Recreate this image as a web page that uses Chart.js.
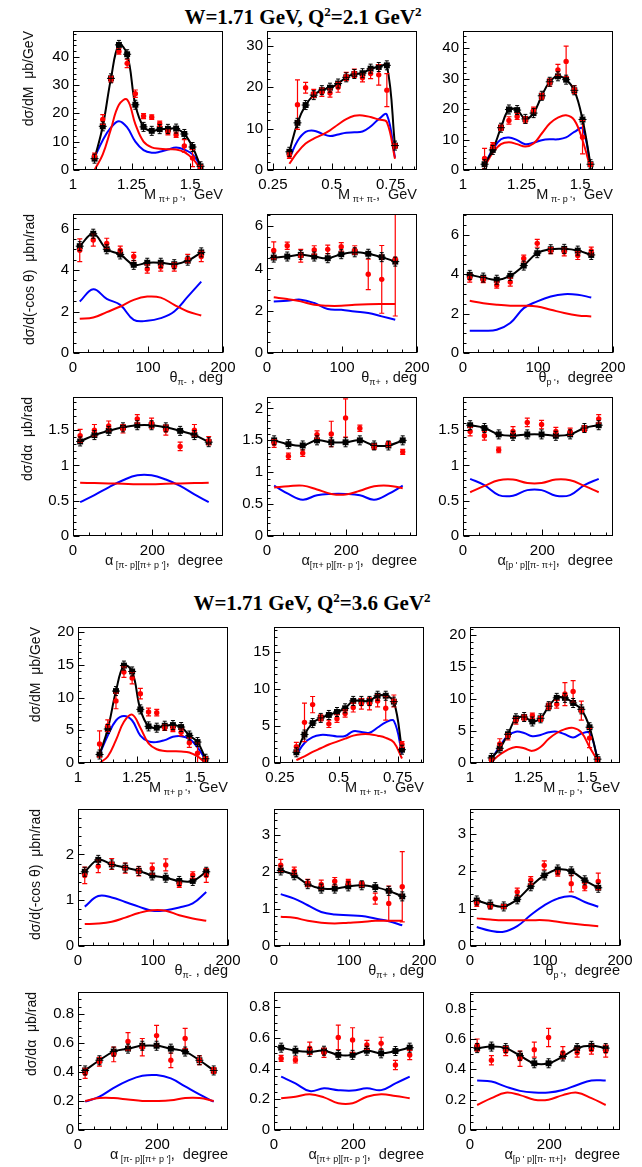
<!DOCTYPE html>
<html>
<head>
<meta charset="utf-8">
<script src="https://cdn.jsdelivr.net/npm/chart.js@4.4.0/dist/chart.umd.min.js"></script>
<style>
body { margin: 0; background: #fff; width: 642px; height: 1167px; position: relative; overflow: hidden; font-family: "Liberation Sans", Arial, sans-serif; }
canvas { position: absolute; }
.ttl { position: absolute; font-family: "Liberation Serif", serif; font-weight: bold; font-size: 21px; white-space: nowrap; transform: translateX(-50%); line-height: 24px; }
.ttl sup { font-size: 13px; vertical-align: 8px; line-height: 0; }
.xt { position: absolute; font-size: 14.5px; text-align: right; white-space: nowrap; line-height: 16px; color: #111; }
.xt sub { font-size: 9px; vertical-align: -3px; line-height: 0; }
.yt { position: absolute; font-size: 14px; white-space: nowrap; text-align: right; line-height: 16px; transform-origin: 0 0; transform: rotate(-90deg); color: #111; }
</style>
</head>
<body>
<div class="ttl" style="left:303px;top:5px">W=1.71 GeV, Q<sup>2</sup>=2.1 GeV<sup>2</sup></div>
<div class="ttl" style="left:312px;top:591px">W=1.71 GeV, Q<sup>2</sup>=3.6 GeV<sup>2</sup></div>
<script>
// bin centres
var massX = [1.092, 1.127, 1.162, 1.196, 1.231, 1.266, 1.301, 1.336, 1.37, 1.405, 1.44, 1.475, 1.51, 1.544];
var pipiX = [0.32, 0.3545, 0.389, 0.4235, 0.458, 0.4925, 0.527, 0.5615, 0.596, 0.6305, 0.665, 0.6995, 0.734, 0.7685];
var thetaX = [9, 27, 45, 63, 81, 99, 117, 135, 153, 171];
var alphaX = [18, 54, 90, 126, 162, 198, 234, 270, 306, 342];

// tick labels
var massTicks = [1, 1.25, 1.5];
var pipiTicks = [0.25, 0.5, 0.75];
var thetaTicks = [0, 100, 200];
var alphaTicks = [0, 200];

// ---- W=1.71, Q2=2.1 ----
// M(pi+ p')
var a1Black = [4.0, 15.4, 32.3, 44.1, 40.8, 23.0, 15.2, 13.8, 14.4, 14.5, 14.6, 12.7, 8.1, 1.3];
var a1Red = [5.0, 17.8, 32.0, 41.8, 37.6, 26.9, 19.0, 18.6, 16.3, 13.3, 12.4, 8.5, 4.2, 0.8];
var a1Err = [1.0, 1.7, 1.0, 1.0, 1.5, 1.3, 0.9, 0.8, 0.9, 0.9, 0.9, 2.2, 3.0, 0.8];
var a1RedLine = [0, 5.5, 14.5, 23.0, 24.8, 16.2, 10.0, 8.0, 7.5, 7.3, 7.2, 6.3, 4.0, 0.5];
var a1BlueLine = [4.4, 10.5, 15.0, 17.2, 15.0, 10.0, 7.0, 6.1, 6.4, 7.2, 7.9, 7.2, 5.5, 1.5];
// M(pi+ pi-)
var a2Black = [4.4, 11.4, 15.7, 18.1, 19.3, 19.9, 20.9, 22.4, 23.2, 23.4, 24.5, 24.9, 25.3, 5.9];
var a2Red = [3.5, 15.8, 19.9, 18.5, 18.8, 18.6, 20.0, 22.6, 23.4, 22.3, 23.3, 23.0, 19.3, 5.8];
var a2Err = [0.7, 6.0, 1.3, 1.0, 1.0, 1.0, 1.2, 1.0, 1.0, 1.0, 1.2, 2.5, 4.0, 0.5];
var a2RedLine = [1.5, 4.3, 6.4, 7.6, 8.5, 9.6, 11.0, 12.3, 13.1, 13.2, 12.8, 12.2, 11.6, 2.7];
var a2BlueLine = [2.8, 7.0, 9.2, 9.5, 8.8, 8.2, 8.6, 9.0, 9.1, 9.3, 10.5, 12.3, 13.4, 3.0];
// M(pi- p')
var a3Black = [1.9, 6.6, 13.9, 19.9, 19.7, 16.8, 18.7, 24.4, 29.0, 30.8, 29.7, 26.2, 16.6, 1.9];
var a3Red = [3.8, 8.0, 13.9, 16.3, 17.6, 16.5, 19.7, 24.2, 28.8, 32.9, 35.7, 26.4, 10.8, 1.8];
var a3Err = [3.3, 1.0, 0.9, 1.2, 1.0, 1.0, 1.0, 1.0, 1.2, 1.8, 5.0, 1.3, 5.5, 0.6];
var a3RedLine = [1.1, 5.7, 8.5, 9.1, 8.5, 7.7, 8.7, 12.0, 15.3, 17.2, 18.0, 16.4, 9.8, 0.5];
var a3BlueLine = [1.6, 6.8, 10.1, 10.7, 9.8, 8.5, 9.0, 9.8, 10.1, 10.1, 10.7, 12.5, 13.6, 1.1];
// theta(pi-)
var a4Black = [5.15, 5.75, 5.0, 4.75, 4.25, 4.35, 4.35, 4.28, 4.45, 4.85];
var a4Red = [4.95, 5.45, 5.28, 4.95, 4.65, 4.05, 4.15, 4.15, 4.55, 4.65];
var a4Err = [0.55, 0.3, 0.25, 0.2, 0.2, 0.2, 0.2, 0.2, 0.2, 0.25];
var a4RedLine = [1.65, 1.71, 1.97, 2.24, 2.56, 2.72, 2.67, 2.32, 2.0, 1.81];
var a4BlueLine = [2.48, 3.07, 2.61, 2.32, 1.6, 1.55, 1.68, 2.0, 2.72, 3.44];
// theta(pi+)
var a5Black = [4.51, 4.56, 4.64, 4.56, 4.48, 4.67, 4.76, 4.69, 4.53, 4.32];
var a5Red = [4.85, 5.07, 4.6, 4.87, 4.9, 5.02, 4.87, 3.72, 3.48, 4.45];
var a5Err = [0.4, 0.17, 0.3, 0.2, 0.2, 0.2, 0.2, 0.72, 1.6, 2.7];
var a5RedLine = [2.63, 2.55, 2.44, 2.28, 2.23, 2.23, 2.28, 2.31, 2.32, 2.32];
var a5BlueLine = [2.44, 2.47, 2.52, 2.36, 2.08, 2.04, 1.96, 1.89, 1.73, 1.57];
// theta(p')
var a6Black = [3.97, 3.83, 3.72, 3.92, 4.44, 5.07, 5.27, 5.29, 5.2, 4.98];
var a6Red = [3.8, 3.72, 3.45, 3.6, 4.8, 5.57, 5.2, 5.13, 4.95, 5.18];
var a6Err = [0.2, 0.15, 0.15, 0.2, 0.17, 0.2, 0.15, 0.2, 0.2, 0.2];
var a6RedLine = [2.65, 2.53, 2.45, 2.4, 2.4, 2.36, 2.2, 2.03, 1.91, 1.86];
var a6BlueLine = [1.13, 1.13, 1.18, 1.52, 2.28, 2.62, 2.87, 2.99, 2.96, 2.82];
// alpha [pi- p][pi+ p']
var a7Black = [1.34, 1.43, 1.49, 1.54, 1.57, 1.57, 1.54, 1.49, 1.43, 1.33];
var a7Red = [1.42, 1.5, 1.56, 1.52, 1.66, 1.6, 1.5, 1.27, 1.5, 1.35];
var a7Err = [0.09, 0.08, 0.07, 0.06, 0.06, 0.07, 0.07, 0.06, 0.08, 0.06];
var a7RedLine = [0.755, 0.75, 0.745, 0.74, 0.735, 0.735, 0.74, 0.745, 0.75, 0.755];
var a7BlueLine = [0.48, 0.58, 0.69, 0.79, 0.86, 0.86, 0.8, 0.71, 0.59, 0.48];
// alpha [pi+ p][pi- p']
var a8Black = [1.5, 1.44, 1.42, 1.5, 1.47, 1.47, 1.5, 1.42, 1.42, 1.5];
var a8Red = [1.45, 1.25, 1.3, 1.59, 1.6, 1.85, 1.69, 1.4, 1.44, 1.32];
var a8Err = [0.06, 0.05, 0.05, 0.06, 0.2, 0.3, 0.05, 0.04, 0.04, 0.04];
var a8RedLine = [0.76, 0.78, 0.79, 0.73, 0.66, 0.65, 0.71, 0.78, 0.79, 0.75];
var a8BlueLine = [0.79, 0.66, 0.57, 0.64, 0.66, 0.66, 0.64, 0.57, 0.66, 0.79];
// alpha [p' p][pi- pi+]
var a9Black = [1.57, 1.53, 1.44, 1.42, 1.44, 1.44, 1.42, 1.44, 1.53, 1.57];
var a9Red = [1.48, 1.42, 1.22, 1.48, 1.61, 1.58, 1.48, 1.48, 1.52, 1.66];
var a9Err = [0.06, 0.06, 0.04, 0.07, 0.06, 0.06, 0.06, 0.05, 0.04, 0.06];
var a9RedLine = [0.62, 0.71, 0.79, 0.8, 0.75, 0.75, 0.8, 0.79, 0.71, 0.62];
var a9BlueLine = [0.81, 0.72, 0.58, 0.57, 0.65, 0.65, 0.57, 0.58, 0.72, 0.81];

// ---- W=1.71, Q2=3.6 ----
var b1Black = [1.3, 5.2, 11.0, 14.9, 14.0, 8.2, 5.6, 5.4, 5.7, 5.8, 5.5, 4.2, 3.2, 0.65];
var b1Red = [2.9, 5.7, 9.5, 13.9, 13.0, 10.6, 7.8, 7.7, 5.4, 5.2, 4.7, 3.1, 1.5, 0.6];
var b1Err = [2.0, 0.9, 1.2, 0.8, 0.9, 0.8, 0.6, 0.5, 0.4, 0.4, 0.5, 0.7, 1.6, 0.3];
var b1RedLine = [0, 1.0, 3.5, 6.3, 7.4, 5.4, 3.0, 2.1, 1.85, 1.8, 1.75, 1.6, 1.0, 0];
var b1BlueLine = [1.3, 4.2, 6.5, 7.2, 6.5, 4.2, 3.3, 3.2, 3.5, 4.0, 4.1, 3.7, 2.4, 0.5];

var b2Black = [1.45, 3.85, 5.4, 6.1, 6.5, 6.9, 7.4, 8.4, 8.4, 8.4, 9.1, 9.1, 8.3, 1.8];
var b2Red = [2.2, 5.5, 7.9, 6.1, 5.3, 6.0, 6.7, 7.5, 8.0, 8.0, 8.4, 7.4, 8.4, 2.5];
var b2Err = [0.6, 2.6, 1.1, 0.4, 0.5, 0.5, 0.5, 0.6, 0.7, 0.8, 0.8, 1.6, 0.8, 0.4];
var b2RedLine = [0.4, 0.9, 1.5, 2.0, 2.5, 2.9, 3.3, 3.7, 3.9, 3.9, 3.7, 3.4, 2.8, 0.6];
var b2BlueLine = [1.1, 2.7, 3.5, 3.8, 3.75, 3.6, 3.65, 4.3, 4.2, 4.1, 4.8, 5.5, 5.7, 1.3];

var b3Black = [0.8, 2.3, 4.5, 7.0, 7.2, 6.5, 7.0, 8.9, 10.2, 10.2, 9.4, 8.4, 5.6, 0.6];
var b3Red = [0.5, 3.0, 4.1, 6.6, 7.1, 7.4, 6.9, 8.9, 9.2, 10.8, 11.2, 8.2, 3.9, 0.5];
var b3Err = [0.3, 0.8, 0.5, 0.5, 0.4, 0.4, 0.4, 0.5, 0.6, 1.8, 1.7, 1.5, 1.5, 0.3];
var b3RedLine = [0.25, 1.3, 2.1, 2.5, 2.3, 1.9, 2.5, 3.8, 4.7, 5.3, 5.5, 4.8, 2.5, 0.4];
var b3BlueLine = [0.6, 2.6, 4.3, 4.9, 4.7, 4.2, 4.4, 4.8, 4.9, 4.5, 4.0, 4.6, 4.7, 0.8];

var b4Black = [1.62, 1.88, 1.78, 1.71, 1.64, 1.54, 1.49, 1.42, 1.42, 1.62];
var b4Red = [1.54, 1.74, 1.79, 1.7, 1.63, 1.69, 1.77, 1.34, 1.55, 1.54];
var b4Err = [0.18, 0.14, 0.12, 0.11, 0.1, 0.12, 0.13, 0.06, 0.07, 0.15];
var b4RedLine = [0.48, 0.49, 0.53, 0.62, 0.72, 0.78, 0.77, 0.67, 0.6, 0.55];
var b4BlueLine = [0.86, 1.09, 1.06, 0.96, 0.86, 0.77, 0.78, 0.84, 0.93, 1.18];

var b5Black = [2.04, 1.91, 1.67, 1.55, 1.55, 1.61, 1.64, 1.59, 1.49, 1.34];
var b5Red = [2.18, 2.03, 1.7, 1.66, 1.75, 1.73, 1.67, 1.28, 1.15, 1.6];
var b5Err = [0.16, 0.1, 0.1, 0.12, 0.1, 0.07, 0.07, 0.15, 0.47, 0.95];
var b5RedLine = [0.79, 0.76, 0.68, 0.63, 0.61, 0.63, 0.65, 0.68, 0.68, 0.68];
var b5BlueLine = [1.4, 1.28, 1.1, 0.92, 0.85, 0.83, 0.81, 0.74, 0.67, 0.56];

var b6Black = [1.22, 1.11, 1.06, 1.25, 1.6, 1.89, 2.05, 2.0, 1.76, 1.56];
var b6Red = [1.14, 1.06, 1.06, 1.45, 1.76, 2.16, 1.95, 1.67, 1.58, 1.73];
var b6Err = [0.08, 0.06, 0.05, 0.1, 0.1, 0.12, 0.08, 0.22, 0.1, 0.22];
var b6RedLine = [0.74, 0.71, 0.69, 0.69, 0.69, 0.69, 0.65, 0.6, 0.56, 0.53];
var b6BlueLine = [0.51, 0.41, 0.38, 0.53, 0.83, 1.09, 1.27, 1.33, 1.18, 1.05];

var b7Black = [0.41, 0.48, 0.54, 0.56, 0.58, 0.58, 0.56, 0.54, 0.48, 0.41];
var b7Red = [0.39, 0.47, 0.52, 0.61, 0.57, 0.65, 0.48, 0.63, 0.48, 0.41];
var b7Err = [0.035, 0.03, 0.05, 0.06, 0.06, 0.07, 0.05, 0.07, 0.03, 0.02];
var b7RedLine = [0.2, 0.22, 0.22, 0.21, 0.2, 0.2, 0.205, 0.22, 0.22, 0.2];
var b7BlueLine = [0.195, 0.23, 0.29, 0.34, 0.373, 0.378, 0.355, 0.3, 0.245, 0.195];

var b8Black = [0.537, 0.517, 0.51, 0.517, 0.49, 0.49, 0.517, 0.5, 0.515, 0.537];
var b8Red = [0.467, 0.457, 0.533, 0.504, 0.604, 0.587, 0.554, 0.565, 0.424, 0.489];
var b8Err = [0.02, 0.02, 0.04, 0.03, 0.08, 0.08, 0.03, 0.04, 0.03, 0.03];
var b8RedLine = [0.207, 0.217, 0.233, 0.213, 0.174, 0.174, 0.217, 0.233, 0.222, 0.207];
var b8BlueLine = [0.348, 0.304, 0.254, 0.272, 0.26, 0.257, 0.272, 0.26, 0.304, 0.348];

var b9Black = [0.54, 0.55, 0.54, 0.49, 0.44, 0.44, 0.485, 0.54, 0.555, 0.54];
var b9Red = [0.56, 0.46, 0.52, 0.47, 0.53, 0.61, 0.51, 0.51, 0.53, 0.52];
var b9Err = [0.04, 0.03, 0.03, 0.05, 0.05, 0.06, 0.04, 0.03, 0.03, 0.04];
var b9RedLine = [0.165, 0.21, 0.246, 0.23, 0.2, 0.2, 0.23, 0.246, 0.21, 0.165];
var b9BlueLine = [0.326, 0.32, 0.286, 0.258, 0.247, 0.247, 0.264, 0.297, 0.326, 0.326];

// layout of the two 3x3 blocks (frame positions in page pixels)
var groupCols = [[73, 267, 463], [78, 274, 470]];
var groupRows = [[31, 214, 397], [627, 809, 992]];
var groupH = [[139, 139, 139], [136, 137, 138]];
var yTitleX = [[28, 29, 27], [35, 35, 31]];
var frameW = 150;

var yTitles = ['dσ/dM&nbsp; μb/GeV', 'dσ/d(-cos θ)&nbsp; μbn/rad', 'dσ/dα&nbsp; μb/rad'];
var xTitles = [
  ['M<sub>&nbsp;π+ p \'</sub>,&nbsp; GeV', 'M<sub>&nbsp;π+ π-</sub>,&nbsp; GeV', 'M<sub>&nbsp;π- p \'</sub>,&nbsp; GeV'],
  ['θ<sub>π-</sub> , deg', 'θ<sub>π+</sub> , deg', 'θ<sub>p \'</sub>,&nbsp; degree'],
  ['α<sub>&nbsp;[π- p][π+ p \']</sub>,&nbsp; degree', 'α<sub>[π+ p][π- p \']</sub>,&nbsp; degree', 'α<sub>[p \' p][π- π+]</sub>,&nbsp; degree']
];

var xAxes = [
  [{x: massX, min: 1, max: 1.64, ticks: massTicks, minor: 0.05},
   {x: pipiX, min: 0.225, max: 0.862, ticks: pipiTicks, minor: 0.05},
   {x: massX, min: 1, max: 1.64, ticks: massTicks, minor: 0.05}],
  [{x: thetaX, min: 0, max: 200, ticks: thetaTicks, minor: 20},
   {x: thetaX, min: 0, max: 200, ticks: thetaTicks, minor: 20},
   {x: thetaX, min: 0, max: 200, ticks: thetaTicks, minor: 20}],
  [{x: alphaX, min: 0, max: 378, ticks: alphaTicks, minor: 40},
   {x: alphaX, min: 0, max: 378, ticks: alphaTicks, minor: 40},
   {x: alphaX, min: 0, max: 378, ticks: alphaTicks, minor: 40}]
];

// y range: [max, step, minor]
var yAxes = [
  [[[49, 10, 2], [33.6, 10, 2], [45.7, 10, 2]],
   [[6.7, 2, 0.5], [6.57, 2, 0.5], [7.06, 2, 0.5]],
   [[1.97, 0.5, 0.1], [2.18, 0.5, 0.1], [1.97, 0.5, 0.1]]],
  [[[20.8, 5, 1], [18.4, 5, 1], [21.3, 5, 1]],
   [[2.99, 1, 0.2], [3.7, 1, 0.2], [3.67, 1, 0.2]],
   [[0.95, 0.2, 0.05], [0.9, 0.2, 0.05], [0.91, 0.2, 0.05]]]
];

var series = [
  [[a1Black, a1Red, a1Err, a1RedLine, a1BlueLine], [a2Black, a2Red, a2Err, a2RedLine, a2BlueLine], [a3Black, a3Red, a3Err, a3RedLine, a3BlueLine],
   [a4Black, a4Red, a4Err, a4RedLine, a4BlueLine], [a5Black, a5Red, a5Err, a5RedLine, a5BlueLine], [a6Black, a6Red, a6Err, a6RedLine, a6BlueLine],
   [a7Black, a7Red, a7Err, a7RedLine, a7BlueLine], [a8Black, a8Red, a8Err, a8RedLine, a8BlueLine], [a9Black, a9Red, a9Err, a9RedLine, a9BlueLine]],
  [[b1Black, b1Red, b1Err, b1RedLine, b1BlueLine], [b2Black, b2Red, b2Err, b2RedLine, b2BlueLine], [b3Black, b3Red, b3Err, b3RedLine, b3BlueLine],
   [b4Black, b4Red, b4Err, b4RedLine, b4BlueLine], [b5Black, b5Red, b5Err, b5RedLine, b5BlueLine], [b6Black, b6Red, b6Err, b6RedLine, b6BlueLine],
   [b7Black, b7Red, b7Err, b7RedLine, b7BlueLine], [b8Black, b8Red, b8Err, b8RedLine, b8BlueLine], [b9Black, b9Red, b9Err, b9RedLine, b9BlueLine]]
];

var FONT = '"Liberation Sans", Arial, sans-serif';
var PL = 50, PT = 14, PR = 24, PB = 28;

function pts(xs, ys) {
  return xs.map(function (x, i) { return {x: x, y: ys[i]}; });
}

function near(v, list, tol) {
  return list.some(function (t) { return Math.abs(t - v) < tol; });
}

// ROOT-like frame with inside ticks, plus error bars
function frameStyle(xMinor, yMinor, errs) {
  return {
    id: 'frameStyle',
    afterDatasetsDraw: function (chart) {
      var ctx = chart.ctx, a = chart.chartArea;
      var xs = chart.scales.x, ys = chart.scales.y;
      var redData = chart.data.datasets[0].data;

      ctx.save();
      ctx.beginPath();
      ctx.rect(a.left, a.top, a.right - a.left, a.bottom - a.top);
      ctx.clip();
      ctx.lineWidth = 1.2;
      ctx.strokeStyle = '#f00';
      chart.getDatasetMeta(0).data.forEach(function (pt, i) {
        var y1 = ys.getPixelForValue(redData[i].y + errs[i]);
        var y2 = ys.getPixelForValue(redData[i].y - errs[i]);
        ctx.beginPath();
        ctx.moveTo(pt.x, y1); ctx.lineTo(pt.x, y2);
        ctx.moveTo(pt.x - 2.5, y1); ctx.lineTo(pt.x + 2.5, y1);
        ctx.moveTo(pt.x - 2.5, y2); ctx.lineTo(pt.x + 2.5, y2);
        ctx.stroke();
      });
      ctx.strokeStyle = '#000';
      ctx.lineWidth = 1;
      chart.getDatasetMeta(1).data.forEach(function (pt) {
        ctx.beginPath();
        ctx.moveTo(pt.x, pt.y - 4.5); ctx.lineTo(pt.x, pt.y + 4.5);
        ctx.moveTo(pt.x - 2, pt.y - 4.5); ctx.lineTo(pt.x + 2, pt.y - 4.5);
        ctx.moveTo(pt.x - 2, pt.y + 4.5); ctx.lineTo(pt.x + 2, pt.y + 4.5);
        ctx.moveTo(pt.x - 4, pt.y); ctx.lineTo(pt.x + 4, pt.y);
        ctx.stroke();
      });
      ctx.restore();

      ctx.save();
      ctx.strokeStyle = '#000';
      ctx.lineWidth = 1;
      var l = Math.round(a.left) + 0.5, t = Math.round(a.top) + 0.5;
      var r = Math.round(a.right) - 0.5, b = Math.round(a.bottom) - 0.5;
      ctx.strokeRect(l, t, r - l, b - t);
      ctx.beginPath();
      var xt = xs.ticks.map(function (k) { return k.value; });
      var k, v, p, len;
      for (k = Math.ceil(xs.min / xMinor - 1e-6); k * xMinor <= xs.max + 1e-9; k++) {
        v = k * xMinor;
        len = near(v, xt, xMinor * 0.01) ? 6 : 3;
        p = Math.round(xs.getPixelForValue(v)) + 0.5;
        ctx.moveTo(p, b); ctx.lineTo(p, b - len);
      }
      var yt = ys.ticks.map(function (k) { return k.value; });
      for (k = Math.ceil(ys.min / yMinor - 1e-6); k * yMinor <= ys.max + 1e-9; k++) {
        v = k * yMinor;
        len = near(v, yt, yMinor * 0.01) ? 6 : 3;
        p = Math.round(ys.getPixelForValue(v)) + 0.5;
        ctx.moveTo(l, p); ctx.lineTo(l + len, p);
      }
      ctx.stroke();
      ctx.restore();
    }
  };
}

function addText(cls, html, style) {
  var d = document.createElement('div');
  d.className = cls;
  d.innerHTML = html;
  d.setAttribute('style', style);
  document.body.appendChild(d);
}

function makePanel(g, row, col) {
  var left = groupCols[g][col], top = groupRows[g][row], h = groupH[g][row];
  var xa = xAxes[row][col], ya = yAxes[g][row][col];
  var s = series[g][row * 3 + col];
  var yTickVals = [];
  for (var k = 0; k * ya[1] <= ya[0] + 1e-9; k++) yTickVals.push(Math.round(k * ya[1] * 1000) / 1000);

  var c = document.createElement('canvas');
  c.width = PL + frameW + PR;
  c.height = PT + h + PB;
  c.style.left = (left - PL) + 'px';
  c.style.top = (top - PT) + 'px';
  document.body.appendChild(c);

  var tickFont = {family: FONT, size: 15};
  new Chart(c, {
    type: 'scatter',
    data: {
      datasets: [
        {data: pts(xa.x, s[1]), showLine: false, pointStyle: 'circle', pointRadius: 2.7, pointBorderWidth: 0, backgroundColor: '#ff0000', borderColor: '#ff0000'},
        {data: pts(xa.x, s[0]), showLine: true, tension: 0.4, borderColor: '#000', borderWidth: 2, pointStyle: 'rect', pointRadius: 4.2, pointBorderWidth: 0, pointBackgroundColor: '#000'},
        {data: pts(xa.x, s[3]), showLine: true, tension: 0.4, borderColor: '#ff0000', borderWidth: 2, pointRadius: 0},
        {data: pts(xa.x, s[4]), showLine: true, tension: 0.4, borderColor: '#0000ff', borderWidth: 2, pointRadius: 0}
      ]
    },
    options: {
      responsive: false,
      animation: false,
      devicePixelRatio: 1,
      events: [],
      layout: {padding: {left: 0, top: PT, right: PR, bottom: 0}},
      plugins: {legend: {display: false}, tooltip: {enabled: false}},
      scales: {
        x: {
          type: 'linear', min: xa.min, max: xa.max,
          afterBuildTicks: function (sc) { sc.ticks = xa.ticks.map(function (v) { return {value: v}; }); },
          afterFit: function (sc) { sc.height = PB; },
          grid: {display: false, drawTicks: false},
          border: {display: false},
          ticks: {padding: 6, color: '#000', font: tickFont, maxRotation: 0, autoSkip: false, callback: function (v) { return String(v); }}
        },
        y: {
          type: 'linear', min: 0, max: ya[0],
          afterBuildTicks: function (sc) { sc.ticks = yTickVals.map(function (v) { return {value: v}; }); },
          afterFit: function (sc) { sc.width = PL; },
          grid: {display: false, drawTicks: false},
          border: {display: false},
          ticks: {padding: 4, color: '#000', font: tickFont, autoSkip: false, callback: function (v) { return String(v); }}
        }
      }
    },
    plugins: [frameStyle(xa.minor, ya[2], s[2])]
  });

  addText('xt', xTitles[row][col], 'left:' + left + 'px;width:' + frameW + 'px;top:' + (top + h + 16) + 'px');
  if (col === 0) {
    addText('yt', yTitles[row], 'left:' + (yTitleX[g][row] - 8) + 'px;top:' + (top + h) + 'px;width:' + h + 'px');
  }
}

for (var g = 0; g < 2; g++) {
  for (var row = 0; row < 3; row++) {
    for (var col = 0; col < 3; col++) {
      makePanel(g, row, col);
    }
  }
}
</script>
</body>
</html>
